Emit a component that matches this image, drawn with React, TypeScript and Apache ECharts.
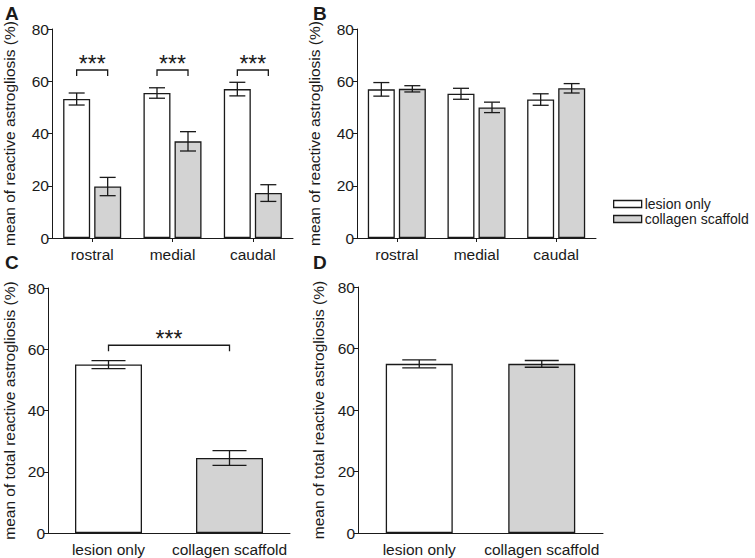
import React, { useEffect, useRef } from "react";
import * as echarts from "echarts";

const regions = ["rostral", "medial", "caudal"];
const groups = ["lesion only", "collagen scaffold"];
const fills = ["#ffffff", "#d3d3d3"];

const aLesion = [53.2, 55.5, 57.0];
const aLesionErr = [2.3, 2.0, 2.6];
const aCollagen = [19.7, 37.0, 17.2];
const aCollagenErr = [3.5, 3.7, 3.2];
const aSigLevel = [64.3, 64.3, 64.3];

const bLesion = [56.9, 55.2, 53.0];
const bLesionErr = [2.6, 2.1, 2.2];
const bCollagen = [57.1, 50.0, 57.3];
const bCollagenErr = [1.2, 2.0, 1.8];

const cTotal = [55.0, 24.5];
const cTotalErr = [1.3, 2.4];
const cSigLevel = 61.3;

const dTotal = [55.0, 55.0];
const dTotalErr = [1.3, 1.1];

const yTitleRegion = "mean of reactive astrogliosis (%)";
const yTitleTotal = "mean of total reactive astrogliosis (%)";

const FONT = "Liberation Sans, Arial, sans-serif";
const INK = "#1a1a1a";

function yAxis(gridIndex: number, name: string, gap: number) {
  return {
    type: "value",
    gridIndex,
    min: 0,
    max: 80,
    interval: 20,
    name,
    nameLocation: "middle",
    nameGap: gap,
    nameRotate: 90,
    nameTextStyle: { fontSize: 15.5, color: INK, fontFamily: FONT },
    axisLine: { show: true, lineStyle: { color: INK, width: 1 } },
    axisTick: { show: true, length: 4, lineStyle: { color: INK } },
    axisLabel: { fontSize: 15.5, color: INK, fontFamily: FONT, margin: 3 },
    splitLine: { show: false },
  };
}

function xAxis(gridIndex: number, data: string[], ticks: boolean) {
  return {
    type: "category",
    gridIndex,
    data,
    axisLine: { show: true, lineStyle: { color: INK, width: 1 } },
    axisTick: { show: ticks, alignWithLabel: true, length: 4, lineStyle: { color: INK } },
    axisLabel: { fontSize: 15.5, color: INK, fontFamily: FONT, margin: 8, interval: 0 },
    splitLine: { show: false },
  };
}

function errSeries(idx: number, means: number[], errs: number[], offset: number, cap: number) {
  return {
    type: "custom",
    xAxisIndex: idx,
    yAxisIndex: idx,
    z: 5,
    silent: true,
    encode: { x: 0, y: 1 },
    data: means.map((m, i) => [i, m, errs[i]]),
    renderItem: (params: any, api: any) => {
      const ci = api.value(0);
      const m = api.value(1);
      const e = api.value(2);
      const top = api.coord([ci, m + e]);
      const bot = api.coord([ci, m - e]);
      const x = top[0] + offset;
      const style = { stroke: INK, lineWidth: 1.3 };
      return {
        type: "group",
        children: [
          { type: "line", shape: { x1: x, y1: top[1], x2: x, y2: bot[1] }, style },
          { type: "line", shape: { x1: x - cap / 2, y1: top[1], x2: x + cap / 2, y2: top[1] }, style },
          { type: "line", shape: { x1: x - cap / 2, y1: bot[1], x2: x + cap / 2, y2: bot[1] }, style },
        ],
      };
    },
  };
}

function bracketSeries(idx: number, items: number[][], half: number) {
  // items: [catFrom, catTo, level]
  return {
    type: "custom",
    xAxisIndex: idx,
    yAxisIndex: idx,
    z: 5,
    silent: true,
    encode: { x: 0, y: 2 },
    data: items,
    renderItem: (params: any, api: any) => {
      const c1 = api.value(0);
      const c2 = api.value(1);
      const lv = api.value(2);
      const p1 = api.coord([c1, lv]);
      const p2 = api.coord([c2, lv]);
      const x1 = p1[0] - half;
      const x2 = p2[0] + half;
      const y = p1[1];
      const style = { stroke: INK, lineWidth: 1.3, fill: "none" };
      return {
        type: "group",
        children: [
          {
            type: "polyline",
            shape: { points: [[x1, y + 6], [x1, y], [x2, y], [x2, y + 6]] },
            style,
          },
          {
            type: "text",
            style: {
              text: "***",
              x: (x1 + x2) / 2,
              y: y - 6,
              align: "center",
              verticalAlign: "middle",
              font: "23px " + FONT,
              fill: INK,
            },
          },
        ],
      };
    },
  };
}

const barStyle = (color: string) => ({ color, borderColor: INK, borderWidth: 1.3 });

export default function App() {
  const ref = useRef<HTMLDivElement>(null);
  useEffect(() => {
    document.body.style.margin = "0";
    const chart = echarts.init(ref.current!, null, { renderer: "svg" });
    const option: any = {
      animation: false,
      backgroundColor: "#ffffff",
      textStyle: { fontFamily: FONT },
      legend: {
        orient: "vertical",
        left: 613,
        top: 197,
        padding: 0,
        itemWidth: 28,
        itemHeight: 7,
        itemGap: 1,
        selectedMode: false,
        icon: "rect",
        textStyle: { fontSize: 14, color: INK, fontFamily: FONT, padding: [0, 0, 0, -2] },
        data: groups.map((g, i) => ({ name: g, itemStyle: barStyle(fills[i]) })),
      },
      grid: [
        { left: 48, top: 29, width: 245, height: 209 },
        { left: 357, top: 29, width: 239, height: 209 },
        { left: 43, top: 288, width: 247, height: 245 },
        { left: 358, top: 287, width: 245, height: 246 },
      ],
      xAxis: [
        xAxis(0, regions, true),
        xAxis(1, regions, true),
        xAxis(2, groups, false),
        xAxis(3, groups, false),
      ],
      yAxis: [
        yAxis(0, yTitleRegion, 35),
        yAxis(1, yTitleRegion, 35),
        yAxis(2, yTitleTotal, 31),
        yAxis(3, yTitleTotal, 32),
      ],
      graphic: [
        { type: "text", left: 5, top: 4, style: { text: "A", font: "bold 19px " + FONT, fill: INK } },
        { type: "text", left: 313, top: 4, style: { text: "B", font: "bold 19px " + FONT, fill: INK } },
        { type: "text", left: 5, top: 253, style: { text: "C", font: "bold 19px " + FONT, fill: INK } },
        { type: "text", left: 313, top: 253, style: { text: "D", font: "bold 19px " + FONT, fill: INK } },
      ],
      series: [
        { type: "bar", name: groups[0], xAxisIndex: 0, yAxisIndex: 0, data: aLesion, barWidth: 27, barGap: "15%", itemStyle: barStyle(fills[0]) },
        { type: "bar", name: groups[1], xAxisIndex: 0, yAxisIndex: 0, data: aCollagen, barWidth: 27, barGap: "15%", itemStyle: barStyle(fills[1]) },
        errSeries(0, aLesion, aLesionErr, -15.5, 16),
        errSeries(0, aCollagen, aCollagenErr, 15.5, 16),
        bracketSeries(0, aSigLevel.map((lv, i) => [i, i, lv]), 15.5),

        { type: "bar", name: groups[0], xAxisIndex: 1, yAxisIndex: 1, data: bLesion, barWidth: 27, barGap: "15%", itemStyle: barStyle(fills[0]) },
        { type: "bar", name: groups[1], xAxisIndex: 1, yAxisIndex: 1, data: bCollagen, barWidth: 27, barGap: "15%", itemStyle: barStyle(fills[1]) },
        errSeries(1, bLesion, bLesionErr, -15.5, 16),
        errSeries(1, bCollagen, bCollagenErr, 15.5, 16),

        {
          type: "bar",
          name: "total C",
          xAxisIndex: 2,
          yAxisIndex: 2,
          barWidth: 67,
          data: cTotal.map((v, i) => ({ value: v, itemStyle: barStyle(fills[i]) })),
        },
        errSeries(2, cTotal, cTotalErr, 0, 34),
        bracketSeries(2, [[0, 1, cSigLevel]], 0),

        {
          type: "bar",
          name: "total D",
          xAxisIndex: 3,
          yAxisIndex: 3,
          barWidth: 67,
          data: dTotal.map((v, i) => ({ value: v, itemStyle: barStyle(fills[i]) })),
        },
        errSeries(3, dTotal, dTotalErr, 0, 34),
      ],
    };
    chart.setOption(option);
    return () => chart.dispose();
  }, []);
  return <div ref={ref} style={{ width: 755, height: 558 }} />;
}
